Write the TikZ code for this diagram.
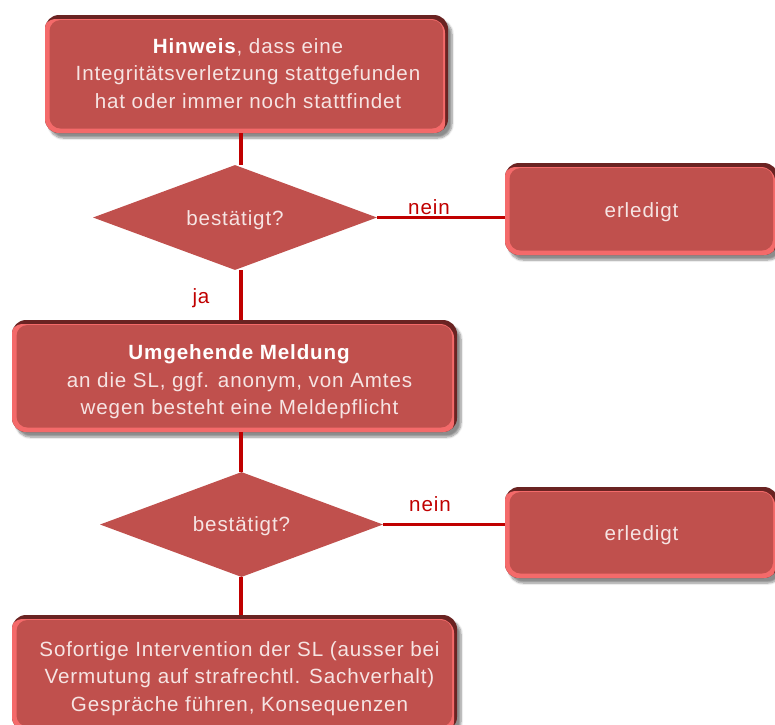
\documentclass[tikz,border=0pt]{standalone}
\usepackage{fontspec}
\setmainfont{Liberation Sans}[LetterSpace=4.2]
\usetikzlibrary{shapes.geometric,shadows.blur,calc}

\definecolor{boxfill}{HTML}{C0504D}
\definecolor{edgedark}{HTML}{6A2322}
\definecolor{edgelight}{HTML}{F46A6A}
\definecolor{linered}{HTML}{C00000}
\definecolor{boxtext}{HTML}{F6E4E3}

% centred lines of a box: #1 = room on the left, #2 = height of the first row
\newcommand{\boxlines}[3]{\hspace*{#1}\begin{tabular}{@{}c@{}}\rule{0pt}{#2}#3\end{tabular}}

\tikzset{
  bevelbox/.style={
    rectangle, rounded corners=14pt, inner sep=0pt, fill=edgedark,
    text=boxtext, align=center, font=\fontsize{20.6}{27.5}\selectfont,
    blur shadow={shadow xshift=4pt, shadow yshift=-5pt, shadow blur steps=8, shadow opacity=45},
    path picture={
      \fill[edgelight, rounded corners=14pt]
        ([xshift=-3pt,yshift=-4pt]path picture bounding box.north west) rectangle
        ([xshift=-3pt,yshift=-4pt]path picture bounding box.south east);
      \fill[boxfill, rounded corners=11pt]
        ([xshift=4.5pt,yshift=-5pt]path picture bounding box.north west) rectangle
        ([xshift=-5pt,yshift=4.5pt]path picture bounding box.south east);
    }},
  decision/.style={
    diamond, aspect=2.7, inner sep=0pt, fill=boxfill, draw=none,
    text=boxtext, font=\fontsize{20.6}{24}\selectfont},
  % taller first line, so the text sits a little lower in its shape
  firstline/.style={execute at begin node={\rule{0pt}{#1}}},
  flow/.style={draw=linered, line width=3.2pt},
  answer/.style={text=linered, font=\fontsize{20.6}{24}\selectfont, inner sep=0pt}
}

\begin{document}
\begin{tikzpicture}[x=1pt, y=-1pt]
  \useasboundingbox (0,0) rectangle (775,724);
  \clip (0,0) rectangle (775,724);

  \coordinate (spine) at (241,0);

  % process boxes
  \node[bevelbox, minimum width=403pt, minimum height=118pt] (hint) at (246.5,74)
    {\boxlines{3pt}{21.25pt}{\textcolor{white}{\textbf{Hinweis}}, dass eine\\Integritätsverletzung stattgefunden\\hat oder immer noch stattfindet}};
  \node[bevelbox, firstline=21pt, minimum width=273pt, minimum height=92pt] (done1) at (641.5,209) {erledigt};
  \node[bevelbox, minimum width=445pt, minimum height=112pt] (report) at (234.5,376)
    {\boxlines{10pt}{31pt}{\textcolor{white}{\textbf{Umgehende Meldung}}\\an die SL, ggf. anonym, von Amtes\\wegen besteht eine Meldepflicht}};
  \node[bevelbox, firstline=20pt, minimum width=273pt, minimum height=91pt] (done2) at (641.5,532.5) {erledigt};
  \node[bevelbox, minimum width=445pt, minimum height=116pt] (act) at (234.5,673)
    {\boxlines{10pt}{30pt}{Sofortige Intervention der SL (ausser bei\\Vermutung auf strafrechtl. Sachverhalt)\\Gespräche führen, Konsequenzen}};

  % decisions
  \node[decision, firstline=20pt, minimum width=284pt, minimum height=105pt] (q1) at (235,217.5) {bestätigt?};
  \node[decision, firstline=19pt, minimum width=283pt, minimum height=105pt] (q2) at (241.5,524.5) {bestätigt?};

  % connectors
  \draw[flow] (hint.south -| spine) -- (q1.north -| spine);
  \draw[flow] (q1.east) -- (done1.west |- q1.east);
  \draw[flow] (q1.south -| spine) -- (report.north -| spine);
  \draw[flow] (report.south -| spine) -- (q2.north -| spine);
  \draw[flow] (q2.east) -- (done2.west |- q2.east);
  \draw[flow] (q2.south -| spine) -- (act.north -| spine);

  % answer labels
  \node[answer] (no1) at (429,207) {nein};
  \node[answer] (yes1) at (201,298) {ja};
  \node[answer] (no2) at (430,504) {nein};
\end{tikzpicture}
\end{document}
